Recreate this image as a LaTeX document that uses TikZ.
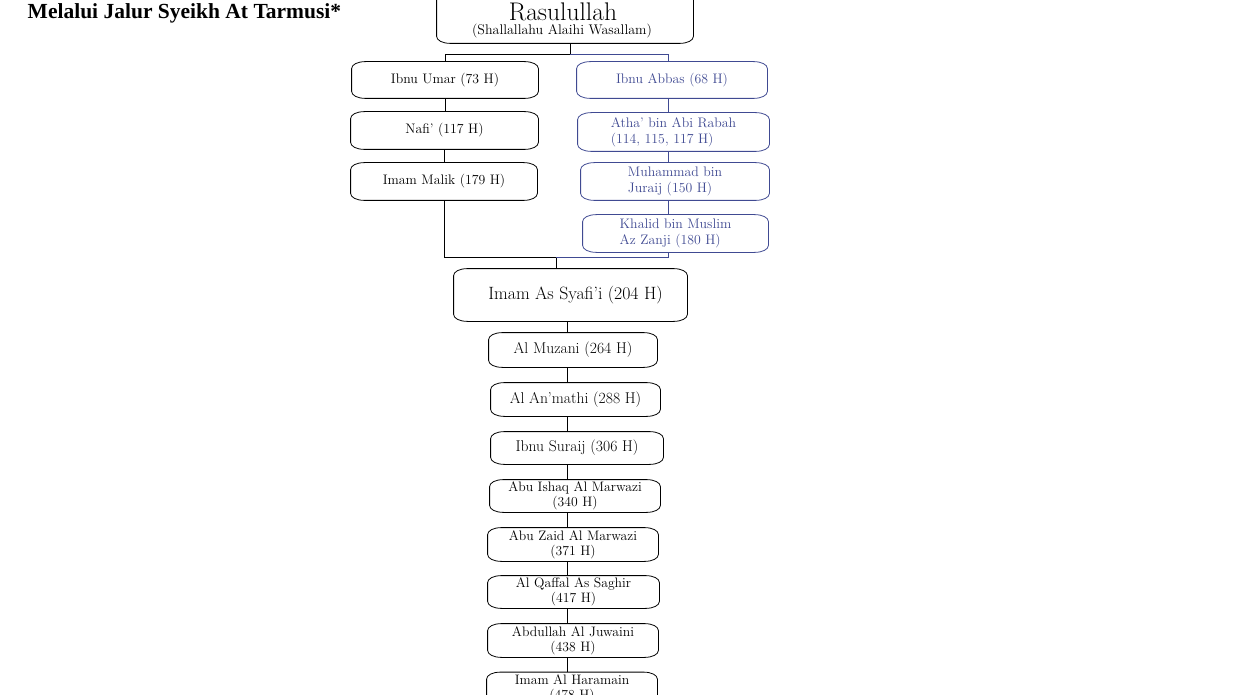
\documentclass[tikz,border=0pt]{standalone}
\usepackage{fontspec}
\newfontfamily\titlefont{Liberation Serif}
\usetikzlibrary{calc}
\definecolor{blu}{RGB}{64,74,146}
\tikzset{
  chain/.style={inner sep=1pt, align=center, font=\fontsize{13.7}{15}\selectfont},
  chainbig/.style={chain, font=\fontsize{15.6}{18}\selectfont},
  side/.style={chain, font=\fontsize{13.8}{16}\selectfont},
  sideblue/.style={side, text=blu, align=left},
}
\begin{document}
\begin{tikzpicture}[x=1pt,y=-1pt,line width=0.8pt]
  \useasboundingbox (0,0) rectangle (1234,695);
  \clip (0,0) rectangle (1234,695);
  % title
  \node[anchor=west, font=\titlefont\bfseries\fontsize{21.5}{24}\selectfont] (title) at (24,13) {Melalui Jalur Syeikh At Tarmusi*};
  % top
  \node[minimum width=256pt, minimum height=58pt] (rasul) at (565,14) {};
  \node[font=\fontsize{25.5}{28}\selectfont, inner sep=0pt] (rasulname) at (563,12) {Rasulullah};
  \node[font=\fontsize{14}{16}\selectfont, inner sep=0pt] (rasulsub) at (562,31) {(Shallallahu Alaihi Wasallam)};
  % left line
  \node[side, minimum width=186pt, minimum height=36pt] (umar) at (445,80) {Ibnu Umar (73 H)};
  \node[side, minimum width=187pt, minimum height=37pt] (nafi) at (444.5,130.5) {Nafi' (117 H)};
  \node[side, minimum width=186pt, minimum height=37pt] (malik) at (444,181.5) {Imam Malik (179 H)};
  % right line
  \node[sideblue, minimum width=190pt, minimum height=36pt] (abbas) at (672,80) {Ibnu Abbas (68 H)};
  \node[sideblue, minimum width=191pt, minimum height=38pt] (atha) at (673.5,132) {Atha' bin Abi Rabah\\(114, 115, 117 H)};
  \node[sideblue, minimum width=188pt, minimum height=37pt] (juraij) at (675,181.5) {Muhammad bin\\Juraij (150 H)};
  \node[sideblue, minimum width=185pt, minimum height=37pt] (khalid) at (675.5,233.5) {Khalid bin Muslim\\Az Zanji (180 H)};
  % main line
  \node[chain, minimum width=233pt, minimum height=52pt, font=\fontsize{17.8}{20}\selectfont] (syafii) at (570.5,295) {\hspace*{10pt}Imam As Syafi'i (204 H)};
  \node[chainbig, minimum width=168pt, minimum height=34pt] (muzani) at (573,350) {Al Muzani (264 H)};
  \node[chainbig, minimum width=169pt, minimum height=33pt] (anmathi) at (575.5,399.5) {Al An'mathi (288 H)};
  \node[chainbig, minimum width=172pt, minimum height=32pt] (suraij) at (577,448) {Ibnu Suraij (306 H)};
  \node[chain, minimum width=170pt, minimum height=32pt] (ishaq) at (575,496) {Abu Ishaq Al Marwazi\\(340 H)};
  \node[chain, minimum width=170pt, minimum height=33pt] (zaid) at (573,544.5) {Abu Zaid Al Marwazi\\(371 H)};
  \node[chain, minimum width=171pt, minimum height=32pt] (qaffal) at (573.5,592) {Al Qaffal As Saghir\\(417 H)};
  \node[chain, minimum width=170pt, minimum height=33pt] (juwaini) at (573,640.5) {Abdullah Al Juwaini\\(438 H)};
  \node[chain, minimum width=170pt, minimum height=33pt] (haramain) at (572,689) {Imam Al Haramain\\(478 H)};
  % outlines
  \foreach \n/\c in {rasul/black,umar/black,nafi/black,malik/black,abbas/blu,atha/blu,juraij/blu,khalid/blu,
                     syafii/black,muzani/black,anmathi/black,suraij/black,ishaq/black,zaid/black,qaffal/black,juwaini/black,haramain/black}
    {
      \draw[\c] ($(\n.north west)+(0,-7pt)$) .. controls ($(\n.north west)+(0,-3pt)$) and ($(\n.north west)+(6pt,0)$) .. ($(\n.north west)+(14pt,0)$)
        -- ($(\n.north east)+(-14pt,0)$) .. controls ($(\n.north east)+(-6pt,0)$) and ($(\n.north east)+(0,-3pt)$) .. ($(\n.north east)+(0,-7pt)$)
        -- ($(\n.south east)+(0,7pt)$) .. controls ($(\n.south east)+(0,3pt)$) and ($(\n.south east)+(-6pt,0)$) .. ($(\n.south east)+(-14pt,0)$)
        -- ($(\n.south west)+(14pt,0)$) .. controls ($(\n.south west)+(6pt,0)$) and ($(\n.south west)+(0,3pt)$) .. ($(\n.south west)+(0,7pt)$) -- cycle;
    }
  % branches
  \coordinate (fork) at (570,54);
  \coordinate (rline) at (668,0);
  \draw (fork |- rasul.south) -- (fork) -| (umar.north);
  \draw[blu] (fork) -| (rline |- abbas.north);
  \draw (umar.south) -- (umar.south |- nafi.north);
  \draw (nafi.south) -- (nafi.south |- malik.north);
  \draw[blu] (rline |- abbas.south) -- (rline |- atha.north);
  \draw[blu] (rline |- atha.south) -- (rline |- juraij.north);
  \draw[blu] (rline |- juraij.south) -- (rline |- khalid.north);
  % join
  \coordinate (join) at (556,257);
  \draw (malik.south) |- (join) -- (join |- syafii.north);
  \draw[blu] (rline |- khalid.south) |- (join);
  % spine
  \coordinate (spine) at (567,0);
  \foreach \a/\b in {syafii/muzani,muzani/anmathi,anmathi/suraij,suraij/ishaq,ishaq/zaid,zaid/qaffal,qaffal/juwaini,juwaini/haramain}
    {
      \draw (spine |- \a.south) -- (spine |- \b.north);
    }
\end{tikzpicture}
\end{document}
